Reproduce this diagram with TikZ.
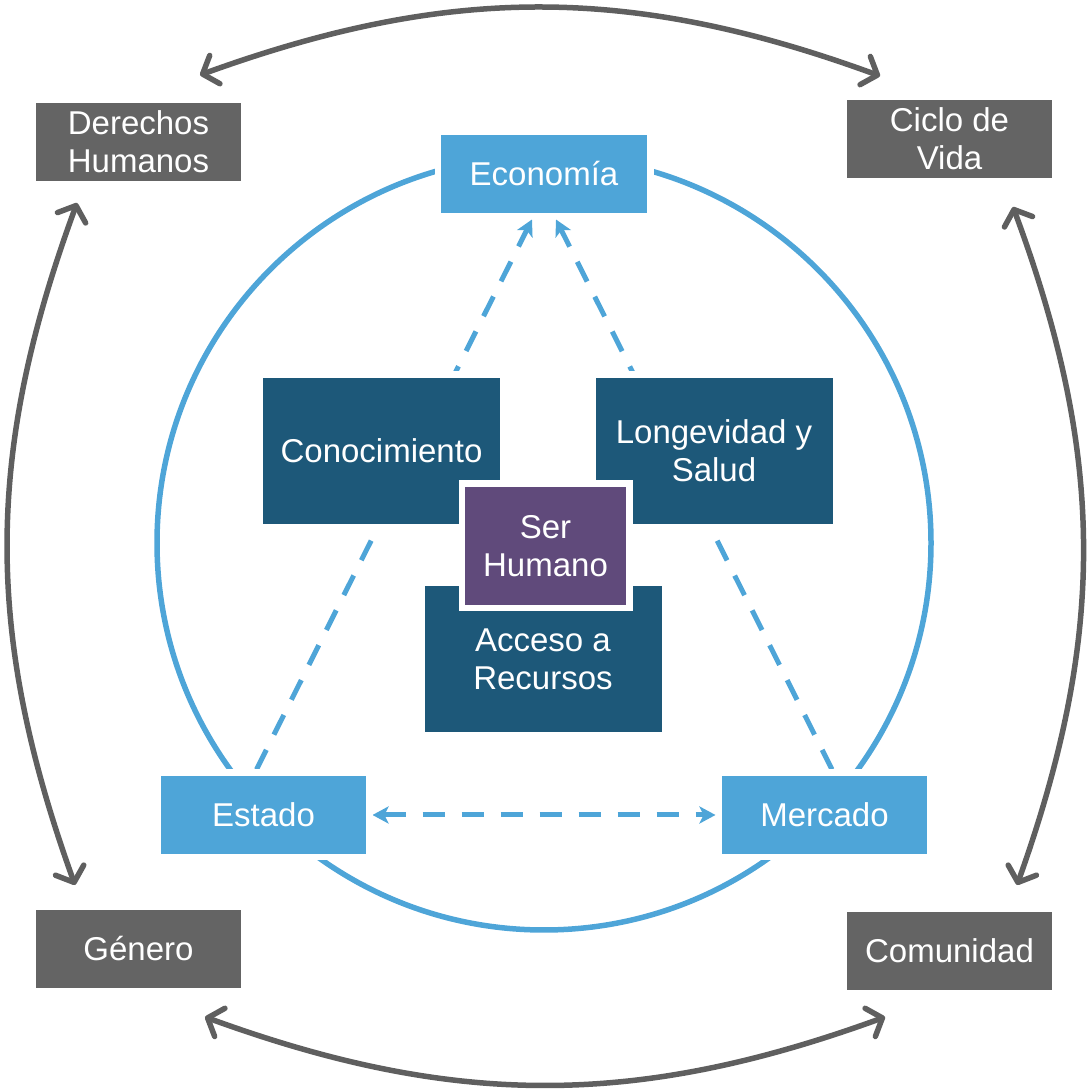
\documentclass[tikz,border=0pt]{standalone}
\usepackage{fontspec}
\setmainfont{Liberation Sans}
\usepackage{tikz}
\usetikzlibrary{arrows.meta,backgrounds}

\definecolor{lightblue}{HTML}{4EA5D8}
\definecolor{darkblue}{HTML}{1D5879}
\definecolor{humanpurple}{HTML}{604A7B}
\definecolor{boxgray}{HTML}{646464}
\definecolor{arrowgray}{HTML}{5F5F5F}
\newcommand{\lblfont}{\fontsize{33}{38}\selectfont}

\tikzset{
  box/.style={draw=white, line width=6.5pt, text=white, align=center, inner sep=0pt, font=\lblfont},
  lightbox/.style={box, fill=lightblue, minimum width=212.5pt, minimum height=84.5pt},
  graybox/.style={box, fill=boxgray, minimum width=211.5pt, minimum height=84.5pt},
  darkbox/.style={box, fill=darkblue, minimum width=243.5pt, minimum height=152.5pt},
  humanbox/.style={box, fill=humanpurple, minimum width=167.5pt, minimum height=124.5pt},
  dashline/.style={lightblue, line width=5pt, dash pattern=on 22pt off 17pt},
  bluetip/.tip={Stealth[length=16pt,width=17pt,inset=4pt]},
  loop/.style={arrowgray, line width=5.5pt, line cap=round,
    {Straight Barb[length=13pt,width=30pt,round]}-{Straight Barb[length=13pt,width=30pt,round]}}
}

\begin{document}
\begin{tikzpicture}[x=1pt, y=1pt]
        \useasboundingbox (0,0) rectangle (1089,1091);

        % Outer boxes
        \node[graybox] (derechos) at (138.5,949) {Derechos\\Humanos};
        \node[graybox] (ciclo) at (949.5,952) {Ciclo de\\Vida};
        \node[graybox] (genero) at (138.5,142) {Género};
        \node[graybox] (comunidad) at (949.5,140) {Comunidad};

        % Inner boxes
        \node[darkbox] (conocimiento) at (381.5,640) {Conocimiento};
        \node[darkbox] (longevidad) at (714,640) {Longevidad y\\Salud};
        \node[darkbox] (acceso) at (543,432) {Acceso a\\Recursos};
        \node[humanbox] (humano) at (545.5,545) {Ser\\Humano};

        % Corners of the triangle
        \node[lightbox] (economia) at (544,917) {Economía};
        \node[graybox, fill=lightblue] (estado) at (263.5,276) {Estado};
        \node[graybox, fill=lightblue] (mercado) at (824.5,276) {Mercado};

        \begin{scope}[on background layer]
        % Draw the circle
        \draw[lightblue, line width=5.5pt] (544,548) circle (387pt);

        % Dashed links
        \draw[dashline, -bluetip] ([xshift=-7pt]estado.north) -- ([xshift=-12pt]economia.south);
        \draw[dashline, -bluetip] ([xshift=7.5pt]mercado.north) -- ([xshift=12pt]economia.south);
        \draw[dashline, bluetip-bluetip] (estado.east) -- (mercado.west);
        \end{scope}

        % Curved arrows round the outside
        \draw[loop] ([shift={(61.5,21.5)}]derechos.north) to[bend left=20] ([shift={(-69.5,17.5)}]ciclo.north);
        \draw[loop] ([shift={(-61.5,-15.5)}]derechos.south) to[bend right=20] ([shift={(-63.5,18.5)}]genero.north);
        \draw[loop] ([shift={(63.5,-22.5)}]ciclo.south) to[bend left=20] ([shift={(67.5,20.5)}]comunidad.north);
        \draw[loop] ([shift={(66.5,-22.5)}]genero.south) to[bend right=20] ([shift={(-64.5,-20.5)}]comunidad.south);
    \end{tikzpicture}
\end{document}
